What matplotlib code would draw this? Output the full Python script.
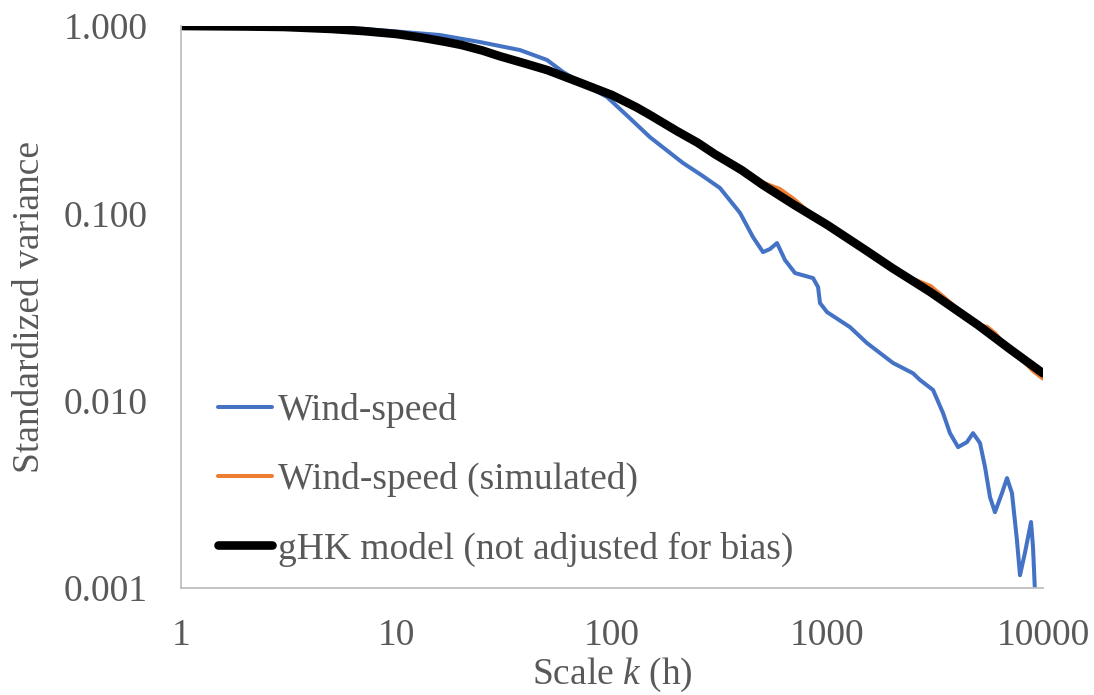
import numpy as np
import matplotlib
matplotlib.use('Agg')
import matplotlib.pyplot as plt

plt.rcParams['font.family'] = ['Liberation Serif', 'DejaVu Serif']
plt.rcParams['mathtext.fontset'] = 'custom'
plt.rcParams['mathtext.rm'] = 'Liberation Serif'
plt.rcParams['mathtext.it'] = 'Liberation Serif:italic'

# Wind-speed (observed)
k_wind = [1, 3.2, 6.1, 10.7, 15.9, 24.4, 37.4, 49.9, 59.3, 75, 94.8, 120, 150, 213, 260, 317,
          393, 451, 502, 541, 583, 635, 707, 857, 904, 923, 995, 1271, 1525, 2013, 2494, 2686,
          3090, 3436, 3700, 4036, 4438, 4735, 5100, 5383, 5678, 5986, 6451, 6808, 7178,
          7570, 7820, 8245, 8800, 8990, 9180]
v_wind = [1.0, 0.988, 0.976, 0.929, 0.895, 0.821, 0.744, 0.659, 0.568, 0.484, 0.418, 0.325,
          0.255, 0.186, 0.160, 0.1365, 0.1004, 0.0747, 0.0621, 0.0645, 0.0694, 0.0563, 0.048,
          0.0451, 0.0404, 0.0332, 0.0297, 0.0247, 0.0203, 0.0159, 0.0140, 0.0129, 0.0114,
          0.00859, 0.00671, 0.00565, 0.00601, 0.00671, 0.00594, 0.00442, 0.00305, 0.00254,
          0.00321, 0.00386, 0.00321, 0.0018, 0.00117, 0.00154, 0.00225, 0.00165, 0.00095]

# Wind-speed (simulated)
k_sim = [1, 2, 3, 5, 7, 10, 15, 20, 30, 50, 70, 100, 150, 200, 300, 420, 500, 600, 700, 800,
         900, 1000, 1500, 2000, 2500, 3000, 3500, 4000, 4500, 5000, 5500, 6000, 6500, 7000,
         8000, 9000, 10000]
v_sim = [1.0, 0.993, 0.987, 0.962, 0.938, 0.905, 0.840, 0.790, 0.690, 0.580, 0.500, 0.426,
         0.334, 0.274, 0.207, 0.158, 0.146, 0.135, 0.119, 0.104, 0.092, 0.0866, 0.0637,
         0.051, 0.0446, 0.041, 0.0354, 0.031, 0.0272, 0.0253, 0.0248, 0.0229, 0.0205,
         0.0189, 0.0165, 0.0144, 0.0131]

# gHK model
k_ghk = [1, 2, 3, 5, 7, 10, 13, 17, 20, 25, 30, 40, 50, 70, 100, 130, 150, 200, 250, 300,
         400, 500, 700, 1000, 1500, 2000, 3000, 5000, 7000, 10000]
v_ghk = [1.0, 0.994, 0.988, 0.964, 0.940, 0.906, 0.868, 0.822, 0.792, 0.740, 0.691, 0.628,
         0.582, 0.502, 0.428, 0.368, 0.335, 0.275, 0.238, 0.207, 0.170, 0.142, 0.111, 0.0866,
         0.0637, 0.0510, 0.0380, 0.0253, 0.0189, 0.0140]

xticks = [1, 10, 100, 1000, 10000]
xlabels = ['1', '10', '100', '1000', '10000']
yticks = [0.001, 0.01, 0.1, 1]
ylabels = ['0.001', '0.010', '0.100', '1.000']

grey = '#595959'
fs = 27

fig = plt.figure(figsize=(10.94, 6.95), dpi=100)
ax = fig.add_axes([181/1094, 1 - 588/695, (1043-181)/1094, (588-26)/695])

ax.plot(k_wind, v_wind, color='#4472C4', lw=2.9, solid_joinstyle='round',
        solid_capstyle='round', label='Wind-speed')
ax.plot(k_sim, v_sim, color='#ED7D31', lw=2.9, solid_joinstyle='round',
        solid_capstyle='round', label='Wind-speed (simulated)')
ax.plot(k_ghk, v_ghk, color='black', lw=6.2, solid_joinstyle='round',
        solid_capstyle='round', label='gHK model (not adjusted for bias)')

ax.set_xscale('log')
ax.set_yscale('log')
ax.set_xlim(1, 10000)
ax.set_ylim(0.001, 1)
ax.set_xticks(xticks)
ax.set_xticklabels(xlabels)
ax.set_yticks(yticks)
ax.set_yticklabels(ylabels)
ax.minorticks_off()
ax.tick_params(length=0, labelsize=fs, labelcolor=grey)
ax.tick_params(axis='y', pad=24)
ax.tick_params(axis='x', pad=22)

for s in ['top', 'right']:
    ax.spines[s].set_visible(False)
for s in ['left', 'bottom']:
    ax.spines[s].set_color('#BFBFBF')
    ax.spines[s].set_linewidth(1.3)

ax.set_xlabel('Scale $k$ (h)', fontsize=fs, color=grey, labelpad=2)
ax.set_ylabel('Standardized variance', fontsize=fs, color=grey, labelpad=12)

leg = ax.legend(loc='upper left', bbox_to_anchor=(218/1094, 1 - 393/695),
                bbox_transform=fig.transFigure, frameon=False, fontsize=fs,
                handlelength=1.45, handletextpad=0.15, labelspacing=0.91,
                borderpad=0, borderaxespad=0)
for t in leg.get_texts():
    t.set_color(grey)

fig.savefig('out.png', dpi=100)
